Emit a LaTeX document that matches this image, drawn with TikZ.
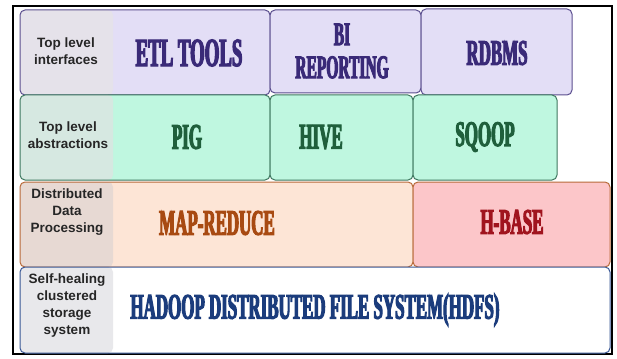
\documentclass[tikz,border=0pt]{standalone}
\usepackage{fontspec}
\setmainfont{Liberation Sans}
\newfontfamily\boxfont[FakeStretch=0.47,FakeBold=3]{Liberation Serif}
\usepackage{tikz}

\definecolor{ifFill}{HTML}{E3DEF6}
\definecolor{ifSide}{HTML}{E5E2EA}
\definecolor{ifLine}{HTML}{5B4F8F}
\definecolor{ifText}{HTML}{3A2A78}
\definecolor{abFill}{HTML}{BFF7E0}
\definecolor{abSide}{HTML}{D6E8E1}
\definecolor{abLine}{HTML}{3F7860}
\definecolor{abText}{HTML}{1F5F3C}
\definecolor{mrFill}{HTML}{FDE5D6}
\definecolor{mrSide}{HTML}{E7D9D3}
\definecolor{mrLine}{HTML}{B86A3A}
\definecolor{mrText}{HTML}{A84A12}
\definecolor{hbFill}{HTML}{FCC6C9}
\definecolor{hbText}{HTML}{A0141E}
\definecolor{fsSide}{HTML}{E8E8EB}
\definecolor{fsLine}{HTML}{3A5896}
\definecolor{fsText}{HTML}{1B3C7C}

\tikzset{
  layer/.style={line width=1pt,rounded corners=5pt},
  strip/.style={path picture={\fill[#1] (path picture bounding box.north west) rectangle ([xshift=93pt]path picture bounding box.south west);}},
  side/.style={font=\bfseries\fontsize{13.5}{17}\selectfont,align=center,text=black!85},
  big/.style={font=\boxfont\bfseries\fontsize{#1}{#1}\selectfont,align=center},
  big/.default=36
}

\begin{document}
\begin{tikzpicture}[x=1pt,y=-1pt]
\useasboundingbox (0,0) rectangle (617,358);
\draw[line width=2pt] (13,6) rectangle (612,354);
% interfaces
\draw[layer,draw=ifLine,fill=ifFill,strip=ifSide] (20,10) rectangle (270,95);
\draw[layer,draw=ifLine,fill=ifFill] (270,10) rectangle (421,93);
\draw[layer,draw=ifLine,fill=ifFill] (421,9) rectangle (572,95);
\node[side] (ifLbl) at (66,51) {Top level\\interfaces};
\node[big=40,text=ifText] (etl) at (189,53) {ETL TOOLS};
\node[big=33,text=ifText] (bi) at (342,51) {BI\\REPORTING};
\node[big,text=ifText] (rdbms) at (497,53) {RDBMS};
% abstractions
\draw[layer,draw=abLine,fill=abFill,strip=abSide] (20,95) rectangle (270,180);
\draw[layer,draw=abLine,fill=abFill] (270,95) rectangle (413,180);
\draw[layer,draw=abLine,fill=abFill] (413,95) rectangle (557,180);
\node[side] (abLbl) at (68,135) {Top level\\abstractions};
\node[big,text=abText] (pig) at (187,137) {PIG};
\node[big,text=abText] (hive) at (321,137) {HIVE};
\node[big,text=abText] (sqoop) at (485,137) {SQOOP};
% processing
\draw[layer,draw=mrLine,fill=mrFill,strip=mrSide] (20,182) rectangle (413,267);
\draw[layer,draw=mrLine,fill=hbFill] (413,182) rectangle (610,267);
\node[side] (mrLbl) at (67,212) {Distributed\\Data\\Processing};
\node[big,text=mrText] (mapred) at (217,223) {MAP-REDUCE};
\node[big,text=hbText] (hbase) at (512,222) {H-BASE};
% storage
\draw[layer,draw=fsLine,fill=white,strip=fsSide] (20,267) rectangle (610,353);
\node[side] (fsLbl) at (67,306) {Self-healing\\clustered\\storage\\system};
\node[big,text=fsText] (hdfs) at (315,310) {HADOOP DISTRIBUTED FILE SYSTEM(HDFS)};
\end{tikzpicture}
\end{document}
